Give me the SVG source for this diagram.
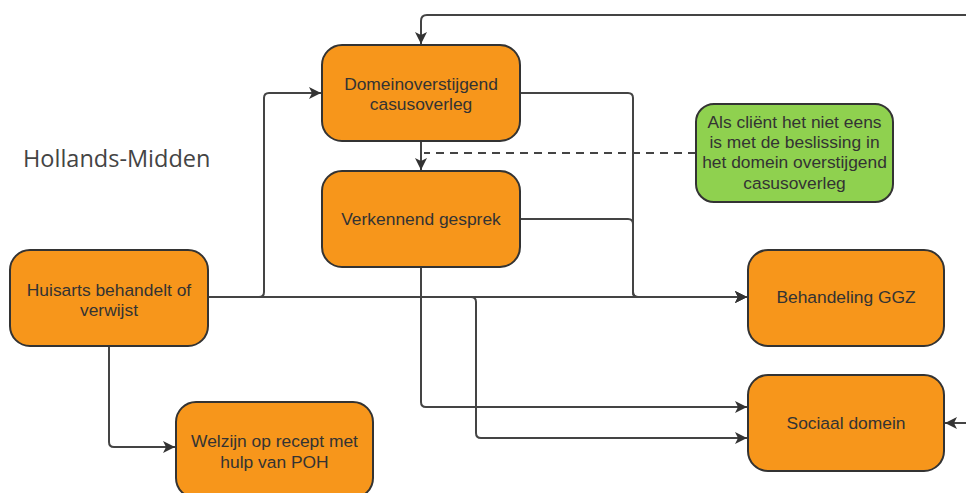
<svg xmlns="http://www.w3.org/2000/svg" width="966" height="493" viewBox="0 0 966 493">
<style>
.box{fill:#f7961b;stroke:#333;stroke-width:2}
.green{fill:#8fd14f;stroke:#333;stroke-width:2}
.t{font-family:"Liberation Sans",Arial,sans-serif;font-size:17.4px;fill:#333;text-anchor:middle}
.c{fill:none;stroke:#444;stroke-width:2;stroke-linejoin:round}
.a{marker-end:url(#arr)}
.title{font-family:"Open Sans","Noto Sans",sans-serif;font-size:23.5px;fill:#444}
</style>
<defs>
<marker id="arr" markerUnits="userSpaceOnUse" markerWidth="14" markerHeight="14" viewBox="0 0 14 14" refX="13" refY="7" orient="auto">
<path d="M1,1 L13,7 L1,13 L4,7 Z" fill="#333"/>
</marker>
</defs>
<rect width="966" height="493" fill="#fff"/>
<text class="title" x="23" y="167">Hollands-Midden</text>
<g id="connectors">
<path class="c a" d="M966,15 H427 Q421,15 421,21 V44"/>
<path class="c a" d="M421,141 V170"/>
<path class="c" d="M696,153 H424" stroke-dasharray="8,6"/>
<path class="c a" d="M208,297 H259 Q264,297 264,292 V98 Q264,93 269,93 H321"/>
<path class="c a" d="M208,297 H747"/>
<path class="c a" d="M208,297 H471 Q476,297 476,302 V433 Q476,438 481,438 H747"/>
<path class="c a" d="M421,267 V402 Q421,407 426,407 H747"/>
<path class="c a" d="M520,219 H628 Q633,219 633,224 V292 Q633,297 638,297 H747"/>
<path class="c a" d="M520,93 H628 Q633,93 633,98 V292 Q633,297 638,297 H747"/>
<path class="c a" d="M109,346 V442 Q109,447 114,447 H175"/>
<path class="c a" d="M966,423 H945"/>
</g>
<g id="domein">
<rect class="box" x="322" y="45" width="198" height="96" rx="20"/>
<text class="t" x="421" y="90">Domeinoverstijgend</text>
<text class="t" x="421" y="110">casusoverleg</text>
</g>
<g id="verkennend">
<rect class="box" x="322" y="171" width="198" height="96" rx="20"/>
<text class="t" x="421" y="225">Verkennend gesprek</text>
</g>
<g id="note">
<rect class="green" x="696" y="104" width="197" height="98" rx="18"/>
<text class="t" x="794.5" y="128">Als cliënt het niet eens</text>
<text class="t" x="794.5" y="148">is met de beslissing in</text>
<text class="t" x="794.5" y="168">het domein overstijgend</text>
<text class="t" x="794.5" y="189">casusoverleg</text>
</g>
<g id="huisarts">
<rect class="box" x="10" y="250" width="198" height="96" rx="20"/>
<text class="t" x="109" y="296">Huisarts behandelt of</text>
<text class="t" x="109" y="316">verwijst</text>
</g>
<g id="ggz">
<rect class="box" x="748" y="250" width="196" height="96" rx="20"/>
<text class="t" x="846" y="303">Behandeling GGZ</text>
</g>
<g id="sociaal">
<rect class="box" x="748" y="375" width="196" height="96" rx="20"/>
<text class="t" x="846" y="429">Sociaal domein</text>
</g>
<g id="welzijn">
<rect class="box" x="176" y="402" width="197" height="96" rx="20"/>
<text class="t" x="274.5" y="447">Welzijn op recept met</text>
<text class="t" x="274.5" y="468">hulp van POH</text>
</g>
</svg>
